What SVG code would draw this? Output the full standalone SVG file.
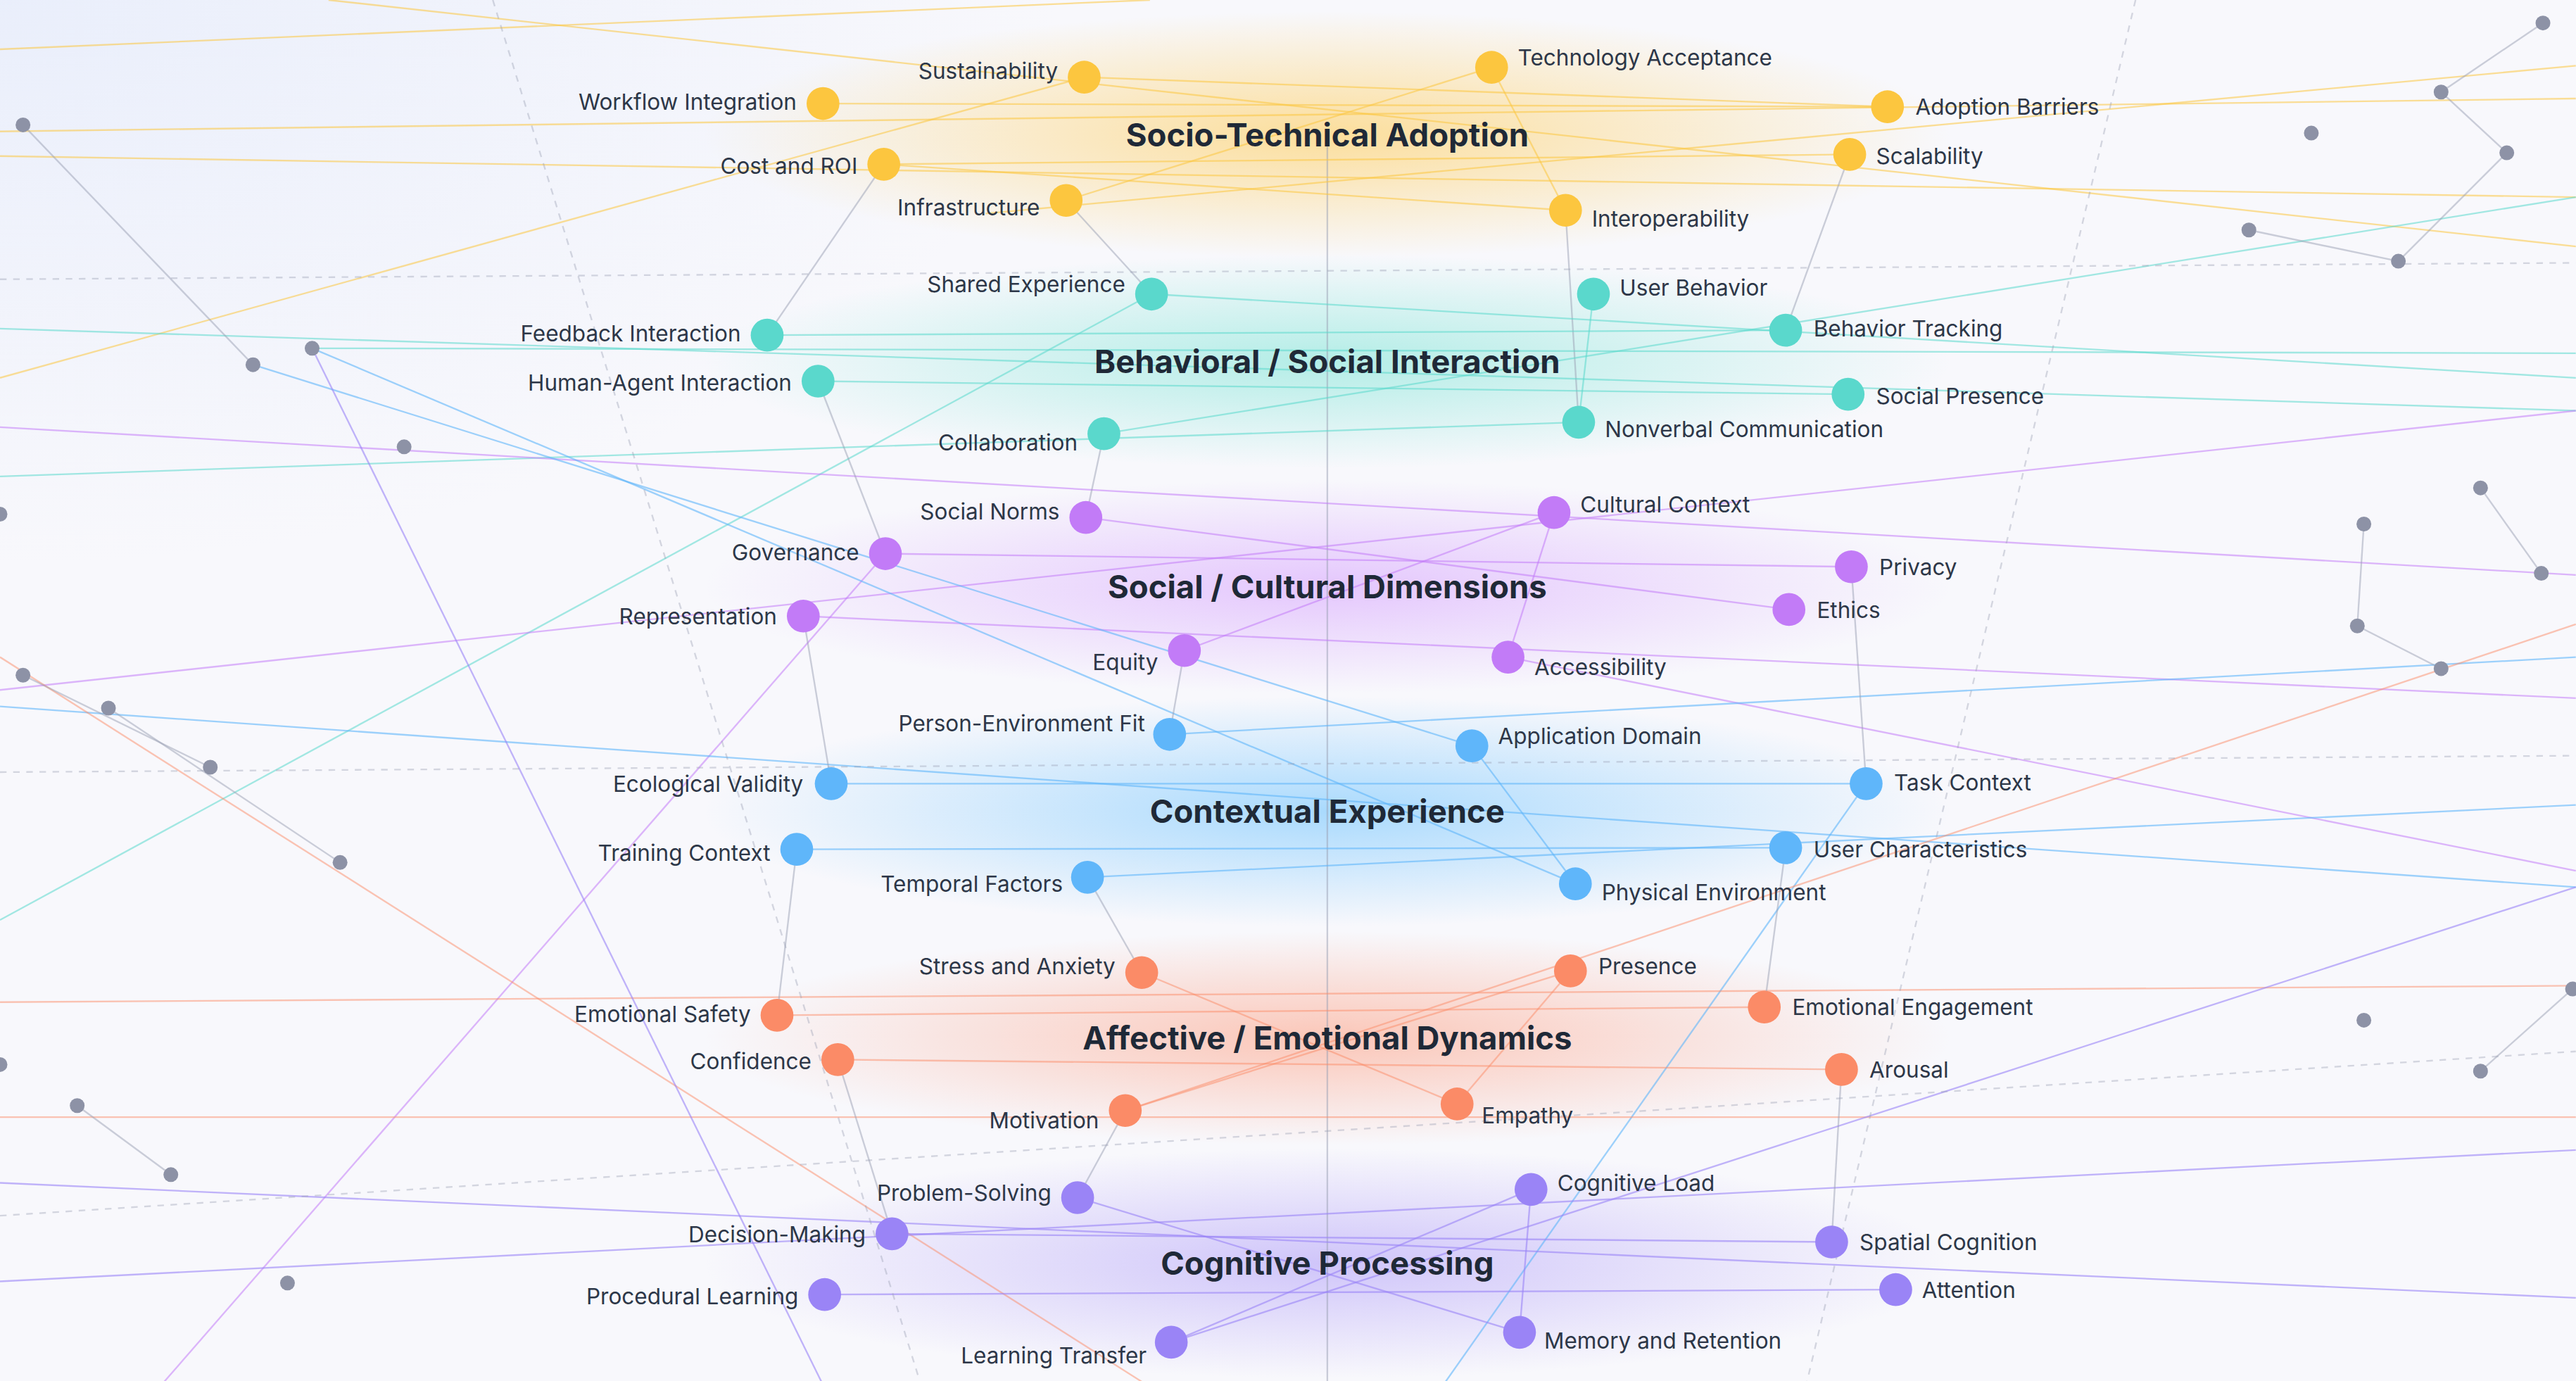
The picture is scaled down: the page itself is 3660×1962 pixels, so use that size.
<svg xmlns="http://www.w3.org/2000/svg" width="3660" height="1962" viewBox="0 0 3660 1962">
<defs>
<radialGradient id="bg" cx="0" cy="0" r="1"><stop offset="0" stop-color="#e6ecfb"/><stop offset="1" stop-color="#f8f8fc"/></radialGradient>
<radialGradient id="gY"><stop offset="0" stop-color="#ffc94d" stop-opacity="0.55"/><stop offset="1" stop-color="#ffc94d" stop-opacity="0"/></radialGradient>
<radialGradient id="gT"><stop offset="0" stop-color="#5ee0cc" stop-opacity="0.45"/><stop offset="1" stop-color="#5ee0cc" stop-opacity="0"/></radialGradient>
<radialGradient id="gP"><stop offset="0" stop-color="#c77dff" stop-opacity="0.4"/><stop offset="1" stop-color="#c77dff" stop-opacity="0"/></radialGradient>
<radialGradient id="gB"><stop offset="0" stop-color="#5bbcff" stop-opacity="0.5"/><stop offset="1" stop-color="#5bbcff" stop-opacity="0"/></radialGradient>
<radialGradient id="gO"><stop offset="0" stop-color="#ff8a65" stop-opacity="0.45"/><stop offset="1" stop-color="#ff8a65" stop-opacity="0"/></radialGradient>
<radialGradient id="gV"><stop offset="0" stop-color="#9d86f7" stop-opacity="0.45"/><stop offset="1" stop-color="#9d86f7" stop-opacity="0"/></radialGradient>
</defs>
<style>
text{font-family:"Inter","Liberation Sans",sans-serif;fill:#2d3748;font-size:13.5px}
.t{font-size:19.5px;font-weight:700;fill:#1f2937;text-anchor:middle}
.r{text-anchor:end}
.y{fill:#fcc63f}.c{fill:#5ad8cc}.p{fill:#c27bf7}.b{fill:#5fb6fa}.o{fill:#fb8b67}.v{fill:#9a84f6}.g{fill:#8d92a6}
#edges line{stroke-width:1;fill:none}
.ey{stroke:#fcc63f;opacity:.55}.ec{stroke:#5ad8cc;opacity:.55}.ep{stroke:#c27bf7;opacity:.55}.eb{stroke:#5fb6fa;opacity:.6}.eo{stroke:#fb8b67;opacity:.5}.ev{stroke:#9a84f6;opacity:.6}.eg{stroke:#9aa0b4;opacity:.5}.ed{stroke:#9aa0b4;opacity:.4;stroke-dasharray:4 4}
</style>
<rect width="3660" height="1962" fill="#f8f8fc"/>
<rect width="1500" height="800" fill="url(#bg)" opacity="0.8"/>
<g transform="scale(2.334)">
<g id="glows">
<ellipse cx="808" cy="82" rx="380" ry="75" fill="url(#gY)"/>
<ellipse cx="808" cy="220" rx="380" ry="65" fill="url(#gT)"/>
<ellipse cx="808" cy="357" rx="380" ry="65" fill="url(#gP)"/>
<ellipse cx="808" cy="494" rx="380" ry="70" fill="url(#gB)"/>
<ellipse cx="808" cy="632" rx="380" ry="65" fill="url(#gO)"/>
<ellipse cx="808" cy="769" rx="380" ry="70" fill="url(#gV)"/>
</g>
<g id="edges">
<line class="eg" x1="808" y1="82" x2="808" y2="841"/>
<line class="ey" x1="0" y1="80" x2="1568" y2="60"/><line class="ey" x1="0" y1="95" x2="1568" y2="120"/><line class="ey" x1="501" y1="63" x2="1149" y2="65"/><line class="ey" x1="538" y1="100" x2="1126" y2="94"/><line class="ey" x1="660" y1="47" x2="1149" y2="65"/><line class="ey" x1="649" y1="122" x2="908" y2="41"/><line class="ey" x1="0" y1="30" x2="700" y2="0"/><line class="ey" x1="200" y1="0" x2="1568" y2="150"/><line class="ey" x1="538" y1="100" x2="953" y2="128"/><line class="ey" x1="0" y1="230" x2="660" y2="47"/><line class="ey" x1="1568" y1="40" x2="600" y2="130"/>
<line class="eg" x1="467" y1="204" x2="538" y2="100"/><line class="eg" x1="649" y1="122" x2="701" y2="179"/><line class="eg" x1="953" y1="128" x2="961" y2="257"/><line class="eg" x1="1126" y1="94" x2="1087" y2="201"/>
<line class="ec" x1="0" y1="200" x2="1568" y2="250"/><line class="ec" x1="467" y1="204" x2="1087" y2="201"/><line class="ec" x1="498" y1="232" x2="1125" y2="240"/><line class="ec" x1="701" y1="179" x2="1568" y2="230"/><line class="ec" x1="672" y1="264" x2="1568" y2="120"/><line class="ec" x1="0" y1="290" x2="961" y2="257"/><line class="ec" x1="190" y1="212" x2="1568" y2="215"/><line class="ec" x1="0" y1="560" x2="701" y2="179"/>
<line class="ep" x1="0" y1="260" x2="1568" y2="350"/><line class="ep" x1="539" y1="337" x2="1127" y2="345"/><line class="ep" x1="489" y1="375" x2="1568" y2="425"/><line class="ep" x1="661" y1="315" x2="1089" y2="371"/><line class="ep" x1="721" y1="396" x2="946" y2="312"/><line class="ep" x1="0" y1="420" x2="1568" y2="250"/><line class="ep" x1="918" y1="400" x2="1568" y2="530"/><line class="ep" x1="100" y1="841" x2="539" y2="337"/>
<line class="eb" x1="0" y1="430" x2="1568" y2="540"/><line class="eb" x1="506" y1="477" x2="1136" y2="477"/><line class="eb" x1="485" y1="517" x2="1087" y2="516"/><line class="eb" x1="190" y1="212" x2="959" y2="538"/><line class="eb" x1="154" y1="222" x2="896" y2="454"/><line class="eb" x1="712" y1="447" x2="1568" y2="400"/><line class="eb" x1="662" y1="534" x2="1568" y2="490"/><line class="eb" x1="1136" y1="477" x2="880" y2="841"/>
<line class="eo" x1="0" y1="610" x2="1568" y2="600"/><line class="eo" x1="473" y1="618" x2="1074" y2="613"/><line class="eo" x1="510" y1="645" x2="1121" y2="651"/><line class="eo" x1="685" y1="676" x2="956" y2="591"/><line class="eo" x1="695" y1="592" x2="887" y2="672"/><line class="eo" x1="0" y1="680" x2="1568" y2="680"/><line class="eo" x1="0" y1="400" x2="695" y2="841"/><line class="eo" x1="1568" y1="380" x2="685" y2="676"/>
<line class="ev" x1="0" y1="720" x2="1568" y2="790"/><line class="ev" x1="543" y1="751" x2="1115" y2="756"/><line class="ev" x1="502" y1="788" x2="1154" y2="785"/><line class="ev" x1="656" y1="729" x2="925" y2="811"/><line class="ev" x1="713" y1="817" x2="932" y2="724"/><line class="ev" x1="190" y1="212" x2="500" y2="841"/><line class="ev" x1="0" y1="780" x2="1568" y2="700"/><line class="ev" x1="1568" y1="540" x2="713" y2="817"/>
<line class="eg" x1="14" y1="76" x2="154" y2="222"/><line class="eg" x1="1548" y1="14" x2="1486" y2="56"/><line class="eg" x1="1486" y1="56" x2="1526" y2="93"/><line class="eg" x1="1526" y1="93" x2="1460" y2="159"/><line class="eg" x1="1369" y1="140" x2="1460" y2="159"/><line class="eg" x1="1510" y1="297" x2="1547" y2="349"/><line class="eg" x1="1439" y1="319" x2="1435" y2="381"/><line class="eg" x1="1435" y1="381" x2="1486" y2="407"/><line class="eg" x1="1510" y1="652" x2="1566" y2="602"/><line class="eg" x1="66" y1="431" x2="207" y2="525"/><line class="eg" x1="47" y1="673" x2="104" y2="715"/><line class="eg" x1="14" y1="411" x2="128" y2="467"/>
<line class="ed" x1="0" y1="170" x2="1568" y2="160"/><line class="ed" x1="0" y1="470" x2="1568" y2="460"/><line class="ed" x1="300" y1="0" x2="560" y2="841"/><line class="ed" x1="1300" y1="0" x2="1100" y2="841"/><line class="ed" x1="0" y1="740" x2="1568" y2="640"/>
<line class="ey" x1="908" y1="41" x2="953" y2="128"/><line class="ec" x1="970" y1="179" x2="961" y2="257"/><line class="ep" x1="946" y1="312" x2="918" y2="400"/><line class="eb" x1="896" y1="454" x2="959" y2="538"/><line class="eo" x1="956" y1="591" x2="887" y2="672"/><line class="ev" x1="932" y1="724" x2="925" y2="811"/>
<line class="eg" x1="498" y1="232" x2="539" y2="337"/><line class="eg" x1="489" y1="375" x2="506" y2="477"/><line class="eg" x1="485" y1="517" x2="473" y2="618"/><line class="eg" x1="510" y1="645" x2="543" y2="751"/><line class="eg" x1="1127" y1="345" x2="1136" y2="477"/><line class="eg" x1="1087" y1="516" x2="1074" y2="613"/><line class="eg" x1="1121" y1="651" x2="1115" y2="756"/><line class="eg" x1="672" y1="264" x2="661" y2="315"/><line class="eg" x1="721" y1="396" x2="712" y2="447"/><line class="eg" x1="662" y1="534" x2="695" y2="592"/><line class="eg" x1="685" y1="676" x2="656" y2="729"/>
</g>
<g id="satellites">
<circle class="g" cx="14" cy="76" r="4.5"/><circle class="g" cx="154" cy="222" r="4.5"/><circle class="g" cx="190" cy="212" r="4.5"/><circle class="g" cx="246" cy="272" r="4.5"/><circle class="g" cx="14" cy="411" r="4.5"/><circle class="g" cx="66" cy="431" r="4.5"/><circle class="g" cx="128" cy="467" r="4.5"/><circle class="g" cx="207" cy="525" r="4.5"/><circle class="g" cx="47" cy="673" r="4.5"/><circle class="g" cx="104" cy="715" r="4.5"/><circle class="g" cx="175" cy="781" r="4.5"/><circle class="g" cx="1548" cy="14" r="4.5"/><circle class="g" cx="1486" cy="56" r="4.5"/><circle class="g" cx="1526" cy="93" r="4.5"/><circle class="g" cx="1407" cy="81" r="4.5"/><circle class="g" cx="1369" cy="140" r="4.5"/><circle class="g" cx="1460" cy="159" r="4.5"/><circle class="g" cx="1510" cy="297" r="4.5"/><circle class="g" cx="1439" cy="319" r="4.5"/><circle class="g" cx="1547" cy="349" r="4.5"/><circle class="g" cx="1435" cy="381" r="4.5"/><circle class="g" cx="1486" cy="407" r="4.5"/><circle class="g" cx="1566" cy="602" r="4.5"/><circle class="g" cx="1439" cy="621" r="4.5"/><circle class="g" cx="1510" cy="652" r="4.5"/><circle class="g" cx="0" cy="313" r="4.5"/><circle class="g" cx="0" cy="648" r="4.5"/>
</g>
<g id="titles">
<text class="t" x="808" y="89">Socio-Technical Adoption</text>
<text class="t" x="808" y="227">Behavioral / Social Interaction</text>
<text class="t" x="808" y="364">Social / Cultural Dimensions</text>
<text class="t" x="808" y="501">Contextual Experience</text>
<text class="t" x="808" y="639">Affective / Emotional Dynamics</text>
<text class="t" x="808" y="776">Cognitive Processing</text>
</g>
<g id="n-sustainability"><circle class="y" cx="660" cy="47" r="10"/><text class="r" x="644" y="48">Sustainability</text></g>
<g id="n-techacc"><circle class="y" cx="908" cy="41" r="10"/><text x="924" y="40">Technology Acceptance</text></g>
<g id="n-workflow"><circle class="y" cx="501" cy="63" r="10"/><text class="r" x="485" y="67">Workflow Integration</text></g>
<g id="n-adoption"><circle class="y" cx="1149" cy="65" r="10"/><text x="1166" y="70">Adoption Barriers</text></g>
<g id="n-cost"><circle class="y" cx="538" cy="100" r="10"/><text class="r" x="522" y="106">Cost and ROI</text></g>
<g id="n-scal"><circle class="y" cx="1126" cy="94" r="10"/><text x="1142" y="100">Scalability</text></g>
<g id="n-infra"><circle class="y" cx="649" cy="122" r="10"/><text class="r" x="633" y="131">Infrastructure</text></g>
<g id="n-interop"><circle class="y" cx="953" cy="128" r="10"/><text x="969" y="138">Interoperability</text></g>
<g id="n-shared"><circle class="c" cx="701" cy="179" r="10"/><text class="r" x="685" y="178">Shared Experience</text></g>
<g id="n-userbeh"><circle class="c" cx="970" cy="179" r="10"/><text x="986" y="180">User Behavior</text></g>
<g id="n-feedback"><circle class="c" cx="467" cy="204" r="10"/><text class="r" x="451" y="208">Feedback Interaction</text></g>
<g id="n-behtrack"><circle class="c" cx="1087" cy="201" r="10"/><text x="1104" y="205">Behavior Tracking</text></g>
<g id="n-human"><circle class="c" cx="498" cy="232" r="10"/><text class="r" x="482" y="238">Human-Agent Interaction</text></g>
<g id="n-socpres"><circle class="c" cx="1125" cy="240" r="10"/><text x="1142" y="246">Social Presence</text></g>
<g id="n-collab"><circle class="c" cx="672" cy="264" r="10"/><text class="r" x="656" y="274">Collaboration</text></g>
<g id="n-nonverbal"><circle class="c" cx="961" cy="257" r="10"/><text x="977" y="266">Nonverbal Communication</text></g>
<g id="n-socnorms"><circle class="p" cx="661" cy="315" r="10"/><text class="r" x="645" y="316">Social Norms</text></g>
<g id="n-cultural"><circle class="p" cx="946" cy="312" r="10"/><text x="962" y="312">Cultural Context</text></g>
<g id="n-gov"><circle class="p" cx="539" cy="337" r="10"/><text class="r" x="523" y="341">Governance</text></g>
<g id="n-privacy"><circle class="p" cx="1127" cy="345" r="10"/><text x="1144" y="350">Privacy</text></g>
<g id="n-repr"><circle class="p" cx="489" cy="375" r="10"/><text class="r" x="473" y="380">Representation</text></g>
<g id="n-ethics"><circle class="p" cx="1089" cy="371" r="10"/><text x="1106" y="376">Ethics</text></g>
<g id="n-equity"><circle class="p" cx="721" cy="396" r="10"/><text class="r" x="705" y="408">Equity</text></g>
<g id="n-access"><circle class="p" cx="918" cy="400" r="10"/><text x="934" y="411">Accessibility</text></g>
<g id="n-pefit"><circle class="b" cx="712" cy="447" r="10"/><text class="r" x="697" y="445">Person-Environment Fit</text></g>
<g id="n-appdom"><circle class="b" cx="896" cy="454" r="10"/><text x="912" y="453">Application Domain</text></g>
<g id="n-ecoval"><circle class="b" cx="506" cy="477" r="10"/><text class="r" x="489" y="482">Ecological Validity</text></g>
<g id="n-task"><circle class="b" cx="1136" cy="477" r="10"/><text x="1153" y="481">Task Context</text></g>
<g id="n-training"><circle class="b" cx="485" cy="517" r="10"/><text class="r" x="469" y="524">Training Context</text></g>
<g id="n-userchar"><circle class="b" cx="1087" cy="516" r="10"/><text x="1104" y="522">User Characteristics</text></g>
<g id="n-temporal"><circle class="b" cx="662" cy="534" r="10"/><text class="r" x="647" y="543">Temporal Factors</text></g>
<g id="n-physical"><circle class="b" cx="959" cy="538" r="10"/><text x="975" y="548">Physical Environment</text></g>
<g id="n-stress"><circle class="o" cx="695" cy="592" r="10"/><text class="r" x="679" y="593">Stress and Anxiety</text></g>
<g id="n-presence"><circle class="o" cx="956" cy="591" r="10"/><text x="973" y="593">Presence</text></g>
<g id="n-emosafe"><circle class="o" cx="473" cy="618" r="10"/><text class="r" x="457" y="622">Emotional Safety</text></g>
<g id="n-emoeng"><circle class="o" cx="1074" cy="613" r="10"/><text x="1091" y="618">Emotional Engagement</text></g>
<g id="n-confid"><circle class="o" cx="510" cy="645" r="10"/><text class="r" x="494" y="651">Confidence</text></g>
<g id="n-arousal"><circle class="o" cx="1121" cy="651" r="10"/><text x="1138" y="656">Arousal</text></g>
<g id="n-motiv"><circle class="o" cx="685" cy="676" r="10"/><text class="r" x="669" y="687">Motivation</text></g>
<g id="n-empathy"><circle class="o" cx="887" cy="672" r="10"/><text x="902" y="684">Empathy</text></g>
<g id="n-probsolv"><circle class="v" cx="656" cy="729" r="10"/><text class="r" x="640" y="731">Problem-Solving</text></g>
<g id="n-cogload"><circle class="v" cx="932" cy="724" r="10"/><text x="948" y="725">Cognitive Load</text></g>
<g id="n-decision"><circle class="v" cx="543" cy="751" r="10"/><text class="r" x="527" y="756">Decision-Making</text></g>
<g id="n-spatial"><circle class="v" cx="1115" cy="756" r="10"/><text x="1132" y="761">Spatial Cognition</text></g>
<g id="n-procedural"><circle class="v" cx="502" cy="788" r="10"/><text class="r" x="486" y="794">Procedural Learning</text></g>
<g id="n-attention"><circle class="v" cx="1154" cy="785" r="10"/><text x="1170" y="790">Attention</text></g>
<g id="n-transfer"><circle class="v" cx="713" cy="817" r="10"/><text class="r" x="698" y="830">Learning Transfer</text></g>
<g id="n-memory"><circle class="v" cx="925" cy="811" r="10"/><text x="940" y="821">Memory and Retention</text></g>
</g>
</svg>
